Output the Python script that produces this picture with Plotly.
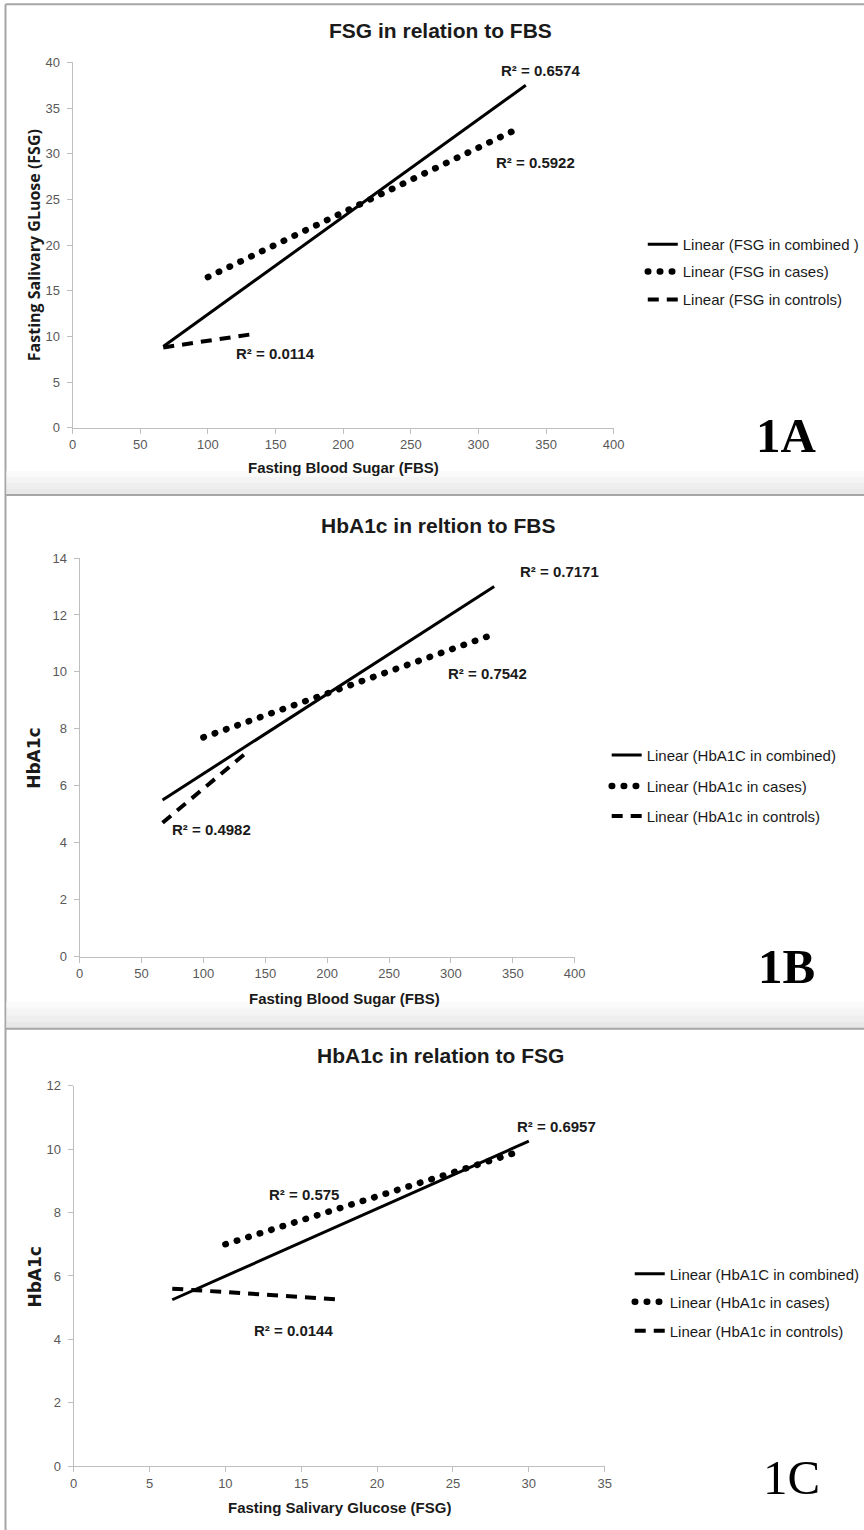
import plotly.graph_objects as go

# ---------------- data (trend line end points) ----------------
# Panel 1A : FSG vs FBS
a_comb_x = [67, 335];   a_comb_y = [8.9, 37.5]
a_case_x = [100, 330];  a_case_y = [16.5, 32.8]
a_ctrl_x = [67, 135];   a_ctrl_y = [8.8, 10.3]
a_names = ["Linear (FSG in combined )", "Linear (FSG in cases)", "Linear (FSG in controls)"]
a_r2 = ["R² = 0.6574", "R² = 0.5922", "R² = 0.0114"]

# Panel 1B : HbA1c vs FBS
b_comb_x = [67, 335];   b_comb_y = [5.5, 13.0]
b_case_x = [100, 330];  b_case_y = [7.7, 11.25]
b_ctrl_x = [67, 133];   b_ctrl_y = [4.7, 7.1]
b_names = ["Linear (HbA1C in combined)", "Linear (HbA1c in cases)", "Linear (HbA1c in controls)"]
b_r2 = ["R² = 0.7171", "R² = 0.7542", "R² = 0.4982"]

# Panel 1C : HbA1c vs FSG
c_comb_x = [6.5, 30];   c_comb_y = [5.25, 10.25]
c_case_x = [10, 29.2];  c_case_y = [7.0, 9.9]
c_ctrl_x = [6.5, 17.7]; c_ctrl_y = [5.6, 5.25]
c_names = ["Linear (HbA1C in combined)", "Linear (HbA1c in cases)", "Linear (HbA1c in controls)"]
c_r2 = ["R² = 0.6957", "R² = 0.575", "R² = 0.0144"]

titles = ["FSG in relation to FBS", "HbA1c in reltion to FBS", "HbA1c in relation to FSG"]
xtitles = ["Fasting Blood Sugar (FBS)", "Fasting Blood Sugar (FBS)", "Fasting Salivary Glucose (FSG)"]
ytitles = ["Fasting Salivary GLuose (FSG)", "HbA1c", "HbA1c"]
panel_tags = ["1A", "1B", "1C"]

# figure size and mapping from target-picture pixels to figure pixels
W, H = 880, 1547
SX, AX, SY, AY = 0.981, 4.5, 0.989, 6.7
def fx(x): return (x - AX) / SX
def fy(y): return (y - AY) / SY
def px(x): return fx(x) / W
def py(y): return 1 - fy(y) / H

NARROW = "Liberation Sans Narrow, Arial Narrow, Liberation Sans, sans-serif"

fig = go.Figure()

styles = [
    dict(color="black", width=3, dash="solid"),
    dict(color="black", width=6.5, dash="0.5px,11.5px"),
    dict(color="black", width=4, dash="11px,8px"),
]

panels = [
    ([a_comb_x, a_case_x, a_ctrl_x], [a_comb_y, a_case_y, a_ctrl_y], a_names),
    ([b_comb_x, b_case_x, b_ctrl_x], [b_comb_y, b_case_y, b_ctrl_y], b_names),
    ([c_comb_x, c_case_x, c_ctrl_x], [c_comb_y, c_case_y, c_ctrl_y], c_names),
]

# legend positions (picture pixels): x of legend box, y of each entry
leg_pos = [
    (642, [244, 271, 299]),
    (606, [754, 785, 815]),
    (629, [1272, 1300, 1329]),
]

legends = {}
k = 0
for p, (xs, ys, names) in enumerate(panels):
    ax = "" if p == 0 else str(p + 1)
    lx, lys = leg_pos[p]
    for i in range(3):
        k += 1
        lname = "legend" if k == 1 else f"legend{k}"
        fig.add_trace(go.Scatter(
            x=xs[i], y=ys[i], mode="lines", name=names[i],
            line=styles[i], xaxis="x" + ax, yaxis="y" + ax,
            legend=lname, showlegend=True, hoverinfo="skip"))
        legends[lname] = dict(
            x=px(lx), y=py(lys[i]), xanchor="left", yanchor="middle",
            bgcolor="rgba(0,0,0,0)", borderwidth=0,
            font=dict(family=NARROW, size=15, color="#1a1a1a"),
            itemwidth=30)

# axes (picture pixels of the plot area corners)
axes_spec = [
    dict(xd=[73, 613], yd=[427, 62], xr=[0, 400], xdt=50, yr=[0, 40], ydt=5),
    dict(xd=[80, 574], yd=[955, 557], xr=[0, 400], xdt=50, yr=[0, 14], ydt=2),
    dict(xd=[74, 604], yd=[1464, 1084], xr=[0, 35], xdt=5, yr=[0, 12], ydt=2),
]
layout_axes = {}
for p, s in enumerate(axes_spec):
    ax = "" if p == 0 else str(p + 1)
    common = dict(showgrid=False, zeroline=False, showline=True, linecolor="#bfbfbf",
                  linewidth=1, ticks="outside", ticklen=5, tickcolor="#bfbfbf",
                  tickfont=dict(family=NARROW, size=13, color="#595959"))
    layout_axes["xaxis" + ax] = dict(domain=[px(s["xd"][0]), px(s["xd"][1])], range=s["xr"],
                                     dtick=s["xdt"], tick0=0, anchor="y" + ax, **common)
    layout_axes["yaxis" + ax] = dict(domain=[py(s["yd"][0]), py(s["yd"][1])], range=s["yr"],
                                     dtick=s["ydt"], tick0=0, anchor="x" + ax, ticklabelstandoff=4,
                                     **common)

annotations = []
# titles
for t, (x, y) in zip(titles, [(440, 30), (438, 525), (440, 1054)]):
    annotations.append(dict(text=f"<b>{t}</b>", x=px(x), y=py(y), xref="paper", yref="paper",
                            showarrow=False, xanchor="center", yanchor="middle",
                            font=dict(family=NARROW, size=21, color="#1a1a1a")))
# x titles
for t, (x, y) in zip(xtitles, [(343, 467), (344, 997), (339, 1505)]):
    annotations.append(dict(text=f"<b>{t}</b>", x=px(x), y=py(y), xref="paper", yref="paper",
                            showarrow=False, xanchor="center", yanchor="middle",
                            font=dict(family=NARROW, size=15, color="#1a1a1a")))
# y titles
for t, (x, y), fnt, sz in zip(ytitles, [(34, 245), (35, 757), (35, 1275)],
                              ["Open Sans, sans-serif", "DejaVu Sans, Verdana, sans-serif",
                               "DejaVu Sans, Verdana, sans-serif"], [16, 17, 17]):
    annotations.append(dict(text=f"<b>{t}</b>", x=px(x), y=py(y), xref="paper", yref="paper",
                            showarrow=False, xanchor="center", yanchor="middle", textangle=-90,
                            font=dict(family=fnt, size=sz, color="#1a1a1a")))
# panel tags
for t, (x, y), bold in zip(panel_tags, [(785, 435), (785, 965), (790, 1475)], [True, True, False]):
    annotations.append(dict(text=f"<b>{t}</b>" if bold else t, x=px(x), y=py(y),
                            xref="paper", yref="paper", showarrow=False,
                            xanchor="center", yanchor="middle",
                            font=dict(family="Liberation Serif, Times New Roman, serif",
                                      size=49, color="black")))
# R² labels (picture pixel positions)
r2_pos = [
    (a_r2, [(540, 70), (535, 162), (275, 353)]),
    (b_r2, [(559, 570), (487, 672), (212, 828)]),
    (c_r2, [(556, 1125), (304, 1193), (293, 1328)]),
]
for texts, poss in r2_pos:
    for t, (x, y) in zip(texts, poss):
        annotations.append(dict(text=f"<b>{t}</b>", x=px(x), y=py(y), xref="paper", yref="paper",
                                showarrow=False, xanchor="center", yanchor="middle",
                                font=dict(family=NARROW, size=15, color="#1a1a1a")))

# frame and panel separators
shapes = []
gray = "#a6a6a6"
shapes.append(dict(type="line", xref="paper", yref="paper", x0=px(6), x1=px(6), y0=0, y1=py(4),
                   line=dict(color=gray, width=2), layer="below"))
shapes.append(dict(type="line", xref="paper", yref="paper", x0=px(6), x1=1, y0=py(4), y1=py(4),
                   line=dict(color=gray, width=2), layer="below"))
for (y_top, y_line) in [(470, 494), (1000, 1027)]:
    for j, col in enumerate(["#fafafa", "#f4f4f4", "#eeeeee", "#e8e8e8"]):
        h = (y_line - y_top) / 4
        shapes.append(dict(type="rect", xref="paper", yref="paper",
                           x0=px(7), x1=1, y0=py(y_top + (j + 1) * h), y1=py(y_top + j * h),
                           fillcolor=col, line=dict(width=0), layer="below"))
    shapes.append(dict(type="line", xref="paper", yref="paper", x0=px(6), x1=1,
                       y0=py(y_line), y1=py(y_line), line=dict(color=gray, width=2), layer="below"))

fig.update_layout(
    width=W, height=H, margin=dict(l=0, r=0, t=0, b=0),
    paper_bgcolor="white", plot_bgcolor="rgba(0,0,0,0)",
    annotations=annotations, shapes=shapes, **layout_axes, **legends,
)

post = """
var st = document.createElement('style');
st.textContent = 'html,body{margin:0!important;padding:0!important;overflow:hidden!important;}';
document.head.appendChild(st);
var gd = document.getElementById('{plot_id}');
function roundDots() {
  document.querySelectorAll('path').forEach(function (p) {
    var s = p.style.strokeDasharray || '';
    if (s.indexOf('0.5px') >= 0) { p.style.strokeLinecap = 'round'; }
  });
}
roundDots();
if (gd && gd.on) { gd.on('plotly_afterplot', roundDots); }
"""

fig.write_html("out.html", post_script=post, config={"displayModeBar": False})
